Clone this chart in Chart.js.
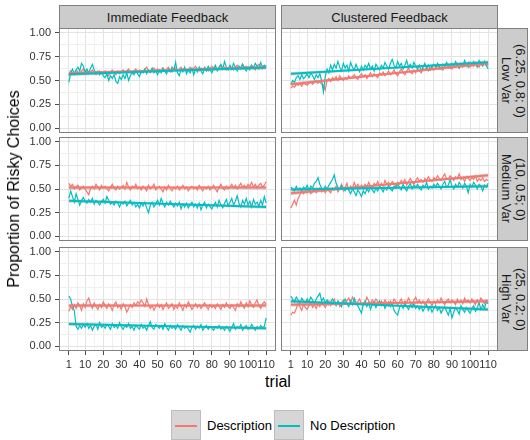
<!DOCTYPE html>
<html>
<head>
<meta charset="utf-8">
<script src="https://cdn.jsdelivr.net/npm/chart.js@4.4.1/dist/chart.umd.min.js"></script>
<style>
  body { margin: 0; background: #fff; font-family: "Liberation Sans", Arial, sans-serif; }
  #wrap { position: relative; width: 530px; height: 440px; overflow: hidden; }
  canvas { position: absolute; }
  .strip { position: absolute; box-sizing: border-box; background: #CCCCCC; border: 1px solid #808080;
           color: #1A1A1A; font-size: 13px; display: flex; align-items: center; justify-content: center; }
  .rstrip { writing-mode: vertical-rl; line-height: 14px; text-align: center; }
  .title { position: absolute; color: #000; font-size: 16px; font-weight: normal; white-space: nowrap; }
  .legend { position: absolute; top: 410px; left: 171px; display: flex; align-items: center; font-size: 13px; color: #000; }
  .key { width: 30px; height: 30px; box-sizing: border-box; background: #D6D6D6; border: 1px solid #BEBEBE; position: relative; }
  .key span { position: absolute; left: 3px; right: 3px; top: 14px; height: 2px; }
  .lab { margin: 0 2px 0 6px; }
</style>
</head>
<body>
<div id="wrap">
  <div class="strip" style="left:59px;top:5px;width:217px;height:24px;">Immediate Feedback</div>
  <div class="strip" style="left:281px;top:5px;width:217px;height:24px;">Clustered Feedback</div>
  <div class="strip rstrip" style="left:497px;top:28px;width:31px;height:105px;">(6.25, 0.8; 0)<br>Low Var</div>
  <div class="strip rstrip" style="left:497px;top:137px;width:31px;height:104px;">(10, 0.5; 0)<br>Medium Var</div>
  <div class="strip rstrip" style="left:497px;top:247px;width:31px;height:104px;">(25, 0.2; 0)<br>High Var</div>

  <canvas id="p00" width="257" height="105" style="left:19px;top:28px;"></canvas>
  <canvas id="p01" width="217" height="105" style="left:281px;top:28px;"></canvas>
  <canvas id="p10" width="257" height="104" style="left:19px;top:137px;"></canvas>
  <canvas id="p11" width="217" height="104" style="left:281px;top:137px;"></canvas>
  <canvas id="p20" width="257" height="126" style="left:19px;top:247px;"></canvas>
  <canvas id="p21" width="217" height="126" style="left:281px;top:247px;"></canvas>

  <div class="title" style="left:14px;top:189px;transform:translate(-50%,-50%) rotate(-90deg);">Proportion of Risky Choices</div>
  <div class="title" style="left:278px;top:382px;transform:translate(-50%,-50%);">trial</div>

  <div class="legend">
    <div class="key"><span style="background:#F8766D"></span></div><div class="lab">Description</div>
    <div class="key"><span style="background:#00BFC4"></span></div><div class="lab">No Description</div>
  </div>
</div>

<script>
// x axis: trials and tick labels
const trials = Array.from({ length: 110 }, (_, i) => i + 1);
const xMajor = [1, 10, 20, 30, 40, 50, 60, 70, 80, 90, 100, 110];
const xMinor = [5.5, 15, 25, 35, 45, 55, 65, 75, 85, 95, 105];
const yMajor = [0, 0.25, 0.5, 0.75, 1];
const yMinor = [0.125, 0.375, 0.625, 0.875];
const yLabels = ['0.00', '0.25', '0.50', '0.75', '1.00'];

// Immediate Feedback / Low Var
const immLowDesc = [
  0.55,0.60,0.58,0.56,0.61,0.59,0.57,0.60,0.62,0.58, 0.60,0.57,0.59,0.61,0.58,0.56,0.59,0.60,0.57,0.58,
  0.60,0.57,0.55,0.59,0.61,0.58,0.56,0.60,0.57,0.59, 0.61,0.58,0.60,0.62,0.59,0.57,0.60,0.62,0.59,0.61,
  0.58,0.60,0.62,0.64,0.60,0.58,0.61,0.63,0.60,0.62, 0.59,0.61,0.63,0.60,0.62,0.64,0.61,0.59,0.62,0.63,
  0.60,0.62,0.64,0.61,0.63,0.60,0.62,0.64,0.61,0.63, 0.65,0.62,0.60,0.63,0.61,0.64,0.62,0.60,0.63,0.65,
  0.62,0.64,0.61,0.63,0.66,0.62,0.64,0.61,0.63,0.65, 0.63,0.61,0.64,0.66,0.62,0.64,0.67,0.63,0.65,0.62,
  0.64,0.66,0.63,0.61,0.65,0.67,0.64,0.62,0.66,0.65];
const immLowNoDesc = [
  0.48,0.58,0.62,0.57,0.61,0.64,0.60,0.68,0.65,0.59, 0.62,0.58,0.63,0.67,0.61,0.58,0.60,0.56,0.59,0.55,
  0.53,0.57,0.50,0.55,0.52,0.56,0.49,0.47,0.54,0.51, 0.56,0.52,0.58,0.50,0.55,0.59,0.56,0.60,0.57,0.54,
  0.60,0.58,0.62,0.57,0.61,0.59,0.63,0.58,0.60,0.56, 0.61,0.58,0.63,0.60,0.57,0.62,0.59,0.64,0.61,0.69,
  0.58,0.55,0.62,0.59,0.64,0.57,0.61,0.58,0.63,0.56, 0.62,0.59,0.64,0.60,0.57,0.63,0.60,0.65,0.61,0.58,
  0.63,0.66,0.60,0.64,0.67,0.62,0.70,0.64,0.61,0.66, 0.62,0.68,0.64,0.60,0.65,0.62,0.67,0.63,0.60,0.64,
  0.61,0.66,0.63,0.68,0.65,0.62,0.69,0.64,0.66,0.65];

// Clustered Feedback / Low Var
const cluLowDesc = [
  0.42,0.44,0.43,0.46,0.45,0.47,0.44,0.48,0.46,0.45, 0.47,0.49,0.46,0.48,0.50,0.47,0.49,0.46,0.45,0.40,
  0.50,0.52,0.49,0.53,0.51,0.54,0.50,0.55,0.52,0.50, 0.53,0.51,0.55,0.52,0.54,0.56,0.53,0.51,0.55,0.57,
  0.54,0.56,0.52,0.55,0.58,0.54,0.57,0.55,0.53,0.58, 0.56,0.59,0.55,0.57,0.60,0.56,0.58,0.61,0.57,0.55,
  0.59,0.62,0.58,0.56,0.60,0.63,0.59,0.57,0.61,0.58, 0.62,0.60,0.58,0.63,0.61,0.64,0.60,0.62,0.65,0.61,
  0.63,0.66,0.62,0.64,0.61,0.65,0.67,0.63,0.65,0.62, 0.66,0.64,0.68,0.63,0.66,0.64,0.67,0.65,0.69,0.64,
  0.67,0.65,0.69,0.66,0.64,0.68,0.66,0.70,0.65,0.67];
const cluLowNoDesc = [
  0.46,0.50,0.48,0.53,0.55,0.51,0.56,0.52,0.54,0.57, 0.53,0.58,0.55,0.51,0.56,0.53,0.57,0.50,0.38,0.54,
  0.62,0.58,0.66,0.61,0.67,0.63,0.70,0.64,0.60,0.68, 0.63,0.66,0.60,0.69,0.64,0.61,0.67,0.62,0.59,0.65,
  0.61,0.66,0.63,0.68,0.62,0.65,0.60,0.67,0.64,0.61, 0.66,0.63,0.69,0.65,0.62,0.68,0.72,0.66,0.63,0.70,
  0.65,0.68,0.62,0.66,0.71,0.64,0.67,0.63,0.69,0.65, 0.62,0.66,0.60,0.64,0.68,0.63,0.66,0.61,0.65,0.67,
  0.64,0.68,0.65,0.62,0.67,0.64,0.69,0.66,0.63,0.68, 0.65,0.70,0.66,0.63,0.68,0.65,0.71,0.67,0.64,0.69,
  0.66,0.70,0.67,0.64,0.71,0.68,0.65,0.70,0.66,0.62];

// Immediate Feedback / Medium Var
const immMedDesc = [
  0.56,0.53,0.55,0.50,0.52,0.54,0.49,0.51,0.53,0.50, 0.47,0.44,0.51,0.53,0.50,0.55,0.52,0.49,0.54,0.51,
  0.53,0.50,0.48,0.52,0.55,0.51,0.49,0.53,0.50,0.52, 0.54,0.50,0.57,0.52,0.49,0.53,0.51,0.55,0.50,0.52,
  0.49,0.53,0.51,0.48,0.54,0.50,0.52,0.55,0.49,0.51, 0.53,0.50,0.47,0.52,0.49,0.54,0.51,0.48,0.52,0.50,
  0.53,0.49,0.51,0.54,0.50,0.52,0.48,0.51,0.53,0.50, 0.52,0.49,0.54,0.51,0.48,0.52,0.50,0.53,0.49,0.51,
  0.54,0.50,0.47,0.52,0.55,0.51,0.49,0.53,0.50,0.52, 0.55,0.51,0.54,0.50,0.53,0.56,0.52,0.54,0.51,0.55,
  0.53,0.57,0.52,0.55,0.51,0.54,0.56,0.52,0.54,0.58];
const immMedNoDesc = [
  0.40,0.48,0.42,0.36,0.45,0.39,0.33,0.38,0.41,0.37, 0.35,0.39,0.36,0.40,0.34,0.38,0.36,0.33,0.37,0.39,
  0.35,0.42,0.38,0.34,0.36,0.33,0.37,0.35,0.31,0.36, 0.34,0.37,0.32,0.35,0.38,0.33,0.36,0.31,0.34,0.30,
  0.35,0.32,0.36,0.30,0.25,0.33,0.36,0.31,0.34,0.38, 0.33,0.40,0.35,0.31,0.36,0.33,0.37,0.34,0.31,0.35,
  0.32,0.36,0.29,0.34,0.31,0.35,0.30,0.33,0.36,0.31, 0.34,0.30,0.35,0.28,0.33,0.36,0.30,0.34,0.31,0.29,
  0.33,0.36,0.31,0.38,0.33,0.30,0.35,0.39,0.32,0.36, 0.40,0.33,0.37,0.43,0.35,0.31,0.38,0.34,0.40,0.33,
  0.37,0.31,0.39,0.34,0.36,0.32,0.38,0.33,0.42,0.35];

// Clustered Feedback / Medium Var
const cluMedDesc = [
  0.30,0.34,0.38,0.33,0.40,0.44,0.47,0.45,0.48,0.46, 0.49,0.45,0.47,0.50,0.46,0.48,0.51,0.47,0.49,0.46,
  0.50,0.48,0.46,0.51,0.49,0.53,0.47,0.50,0.55,0.48, 0.52,0.56,0.49,0.53,0.50,0.57,0.52,0.55,0.51,0.54,
  0.50,0.55,0.52,0.57,0.53,0.51,0.56,0.54,0.58,0.52, 0.56,0.53,0.59,0.55,0.57,0.54,0.58,0.56,0.53,0.57,
  0.55,0.59,0.56,0.60,0.54,0.58,0.61,0.57,0.55,0.59, 0.62,0.58,0.60,0.57,0.61,0.59,0.63,0.60,0.58,0.62,
  0.60,0.64,0.61,0.59,0.63,0.66,0.61,0.60,0.64,0.62, 0.59,0.63,0.61,0.66,0.60,0.62,0.58,0.63,0.61,0.59,
  0.62,0.60,0.64,0.58,0.61,0.59,0.62,0.58,0.60,0.59];
const cluMedNoDesc = [
  0.52,0.50,0.48,0.53,0.49,0.51,0.47,0.52,0.50,0.54, 0.49,0.53,0.51,0.56,0.58,0.62,0.55,0.51,0.49,0.53,
  0.50,0.54,0.57,0.60,0.65,0.56,0.52,0.50,0.54,0.51, 0.48,0.52,0.49,0.45,0.50,0.47,0.43,0.49,0.46,0.42,
  0.48,0.45,0.50,0.47,0.52,0.49,0.46,0.51,0.48,0.53, 0.50,0.47,0.52,0.49,0.54,0.50,0.48,0.53,0.51,0.55,
  0.52,0.49,0.55,0.51,0.48,0.53,0.56,0.50,0.54,0.52, 0.55,0.51,0.49,0.54,0.52,0.57,0.50,0.53,0.51,0.55,
  0.52,0.56,0.53,0.50,0.55,0.58,0.52,0.54,0.60,0.53, 0.50,0.55,0.52,0.57,0.54,0.51,0.56,0.53,0.46,0.55,
  0.52,0.57,0.54,0.50,0.55,0.53,0.48,0.54,0.52,0.56];

// Immediate Feedback / High Var
const immHighDesc = [
  0.37,0.42,0.39,0.44,0.40,0.46,0.43,0.38,0.45,0.41, 0.48,0.51,0.44,0.40,0.46,0.42,0.39,0.44,0.41,0.47,
  0.43,0.40,0.45,0.42,0.38,0.44,0.47,0.41,0.43,0.39, 0.45,0.42,0.36,0.40,0.44,0.41,0.46,0.43,0.47,0.45,
  0.49,0.46,0.42,0.50,0.44,0.40,0.43,0.38,0.42,0.45, 0.41,0.44,0.39,0.43,0.46,0.40,0.42,0.45,0.39,0.43,
  0.40,0.46,0.42,0.38,0.44,0.41,0.47,0.43,0.39,0.42, 0.45,0.41,0.44,0.40,0.43,0.46,0.42,0.39,0.44,0.41,
  0.43,0.40,0.45,0.42,0.39,0.44,0.41,0.46,0.42,0.40, 0.44,0.41,0.38,0.45,0.42,0.47,0.43,0.40,0.46,0.42,
  0.48,0.44,0.41,0.46,0.49,0.43,0.40,0.45,0.47,0.44];
const immHighNoDesc = [
  0.53,0.50,0.42,0.38,0.21,0.18,0.22,0.19,0.23,0.20, 0.24,0.19,0.22,0.17,0.21,0.23,0.18,0.25,0.20,0.22,
  0.19,0.23,0.21,0.18,0.24,0.20,0.22,0.19,0.25,0.21, 0.18,0.22,0.20,0.24,0.19,0.21,0.17,0.22,0.20,0.18,
  0.23,0.19,0.21,0.17,0.22,0.26,0.20,0.18,0.23,0.21, 0.19,0.22,0.18,0.24,0.20,0.17,0.22,0.19,0.21,0.18,
  0.23,0.20,0.17,0.22,0.19,0.21,0.18,0.15,0.20,0.22, 0.18,0.21,0.19,0.23,0.17,0.20,0.22,0.18,0.21,0.19,
  0.17,0.21,0.19,0.22,0.18,0.20,0.17,0.21,0.19,0.16, 0.20,0.24,0.18,0.21,0.19,0.23,0.17,0.20,0.22,0.18,
  0.19,0.23,0.20,0.17,0.21,0.19,0.22,0.20,0.21,0.30];

// Clustered Feedback / High Var
const cluHighDesc = [
  0.33,0.36,0.35,0.40,0.45,0.42,0.38,0.44,0.41,0.39, 0.43,0.46,0.41,0.44,0.40,0.45,0.42,0.47,0.44,0.41,
  0.45,0.48,0.43,0.46,0.50,0.44,0.47,0.42,0.46,0.49, 0.45,0.48,0.51,0.46,0.52,0.48,0.44,0.47,0.50,0.45,
  0.43,0.46,0.52,0.48,0.45,0.49,0.46,0.50,0.47,0.44, 0.48,0.45,0.49,0.46,0.43,0.48,0.45,0.50,0.47,0.44,
  0.47,0.50,0.45,0.48,0.46,0.51,0.47,0.44,0.49,0.52, 0.46,0.49,0.45,0.48,0.44,0.47,0.50,0.46,0.43,0.48,
  0.45,0.49,0.46,0.51,0.47,0.44,0.48,0.50,0.46,0.49, 0.47,0.44,0.50,0.46,0.49,0.45,0.51,0.47,0.49,0.46,
  0.50,0.47,0.44,0.49,0.46,0.51,0.48,0.45,0.49,0.47];
const cluHighNoDesc = [
  0.53,0.50,0.47,0.52,0.49,0.45,0.51,0.48,0.46,0.50, 0.47,0.52,0.49,0.45,0.50,0.53,0.56,0.48,0.51,0.46,
  0.49,0.44,0.47,0.50,0.46,0.43,0.48,0.45,0.42,0.47, 0.50,0.45,0.42,0.48,0.44,0.51,0.46,0.43,0.39,0.35,
  0.45,0.48,0.42,0.46,0.39,0.44,0.47,0.41,0.45,0.48, 0.43,0.46,0.40,0.44,0.47,0.42,0.45,0.38,0.35,0.33,
  0.41,0.44,0.40,0.46,0.42,0.39,0.44,0.41,0.45,0.40, 0.43,0.39,0.42,0.37,0.41,0.44,0.38,0.42,0.36,0.40,
  0.43,0.38,0.41,0.35,0.39,0.42,0.37,0.33,0.40,0.30, 0.36,0.41,0.38,0.34,0.43,0.39,0.36,0.41,0.38,0.35,
  0.40,0.43,0.37,0.41,0.46,0.39,0.44,0.40,0.47,0.45];

// linear trend (value at trial 1, value at trial 110), panel order: immLow, cluLow, immMed, cluMed, immHigh, cluHigh
const trendDescStart   = [0.575, 0.46, 0.515, 0.455, 0.43, 0.44];
const trendDescEnd     = [0.640, 0.68, 0.515, 0.645, 0.43, 0.475];
const trendNoDescStart = [0.565, 0.57, 0.375, 0.495, 0.235, 0.475];
const trendNoDescEnd   = [0.635, 0.69, 0.31, 0.53, 0.19, 0.39];
// confidence band half width at trial 1, middle, trial 110
const bandTrials = [1, 55.5, 110];
const bandHalf = [0.02, 0.008, 0.02];

const descSeries = [immLowDesc, cluLowDesc, immMedDesc, cluMedDesc, immHighDesc, cluHighDesc];
const noDescSeries = [immLowNoDesc, cluLowNoDesc, immMedNoDesc, cluMedNoDesc, immHighNoDesc, cluHighNoDesc];

const RED = '#F8766D', CYAN = '#00BFC4';
const FONT = { family: '"Liberation Sans", Arial, sans-serif', size: 11 };

const panelBorder = {
  id: 'panelBorder',
  afterDraw(chart) {
    const a = chart.chartArea, c = chart.ctx;
    c.save();
    c.strokeStyle = '#808080';
    c.lineWidth = 1;
    c.strokeRect(a.left + 0.5, a.top + 0.5, a.right - a.left - 1, a.bottom - a.top - 1);
    c.restore();
  }
};

function trendAt(s, e, t) { return s + (e - s) * (t - 1) / 109; }

function band(s, e, sign) {
  return bandTrials.map((t, i) => ({ x: t, y: trendAt(s, e, t) + sign * bandHalf[i] }));
}

function makePanel(idx) {
  const row = Math.floor(idx / 2), col = idx % 2;
  const showY = col === 0, showX = row === 2;
  const pts = arr => arr.map((v, i) => ({ x: trials[i], y: v }));
  const ds = trendDescStart[idx], de = trendDescEnd[idx];
  const ns = trendNoDescStart[idx], ne = trendNoDescEnd[idx];
  const bandStyle = { borderWidth: 0, pointRadius: 0, backgroundColor: 'rgba(153,153,153,0.4)', order: 2 };

  new Chart(document.getElementById('p' + row + col), {
    type: 'line',
    data: {
      datasets: [
        { data: pts(descSeries[idx]), borderColor: RED, borderWidth: 1.2, pointRadius: 0, order: 4 },
        { data: pts(noDescSeries[idx]), borderColor: CYAN, borderWidth: 1.2, pointRadius: 0, order: 3 },
        { data: band(ds, de, -1), fill: false, ...bandStyle },
        { data: band(ds, de, 1), fill: 2, ...bandStyle },
        { data: band(ns, ne, -1), fill: false, ...bandStyle },
        { data: band(ns, ne, 1), fill: 4, ...bandStyle },
        { data: [{ x: 1, y: ds }, { x: 110, y: de }], borderColor: RED, borderWidth: 2, pointRadius: 0, order: 1 },
        { data: [{ x: 1, y: ns }, { x: 110, y: ne }], borderColor: CYAN, borderWidth: 2, pointRadius: 0, order: 0 }
      ]
    },
    options: {
      responsive: false,
      animation: false,
      events: [],
      layout: { padding: 0 },
      plugins: { legend: { display: false }, tooltip: { enabled: false } },
      scales: {
        x: {
          type: 'linear', min: -4.45, max: 115.45,
          afterBuildTicks: s => { s.ticks = [...xMajor, ...xMinor].sort((a, b) => a - b).map(v => ({ value: v })); },
          afterFit: s => { s.height = showX ? 22 : 0; s.paddingLeft = 0; s.paddingRight = 0; },
          ticks: {
            display: showX, autoSkip: false, maxRotation: 0, padding: 3, font: FONT, color: '#333333',
            callback: v => xMajor.includes(v) ? String(v) : ''
          },
          grid: {
            color: c => xMajor.includes(c.tick.value) ? '#E3E3E3' : '#F0F0F0',
            lineWidth: 1,
            drawTicks: showX, tickLength: 4,
            tickColor: c => xMajor.includes(c.tick.value) ? '#4D4D4D' : 'rgba(0,0,0,0)'
          },
          border: { display: false }
        },
        y: {
          type: 'linear', min: -0.05, max: 1.05,
          afterBuildTicks: s => { s.ticks = [...yMajor, ...yMinor].sort((a, b) => a - b).map(v => ({ value: v })); },
          afterFit: s => { s.width = showY ? 40 : 0; s.paddingTop = 0; s.paddingBottom = 0; },
          ticks: {
            display: showY, autoSkip: false, padding: 4, font: FONT, color: '#333333',
            callback: v => yMajor.includes(v) ? yLabels[yMajor.indexOf(v)] : ''
          },
          grid: {
            color: c => yMajor.includes(c.tick.value) ? '#E3E3E3' : '#F0F0F0',
            lineWidth: 1,
            drawTicks: showY, tickLength: 4,
            tickColor: c => yMajor.includes(c.tick.value) ? '#4D4D4D' : 'rgba(0,0,0,0)'
          },
          border: { display: false }
        }
      }
    },
    plugins: [panelBorder]
  });
}

for (let i = 0; i < 6; i++) makePanel(i);
</script>
</body>
</html>
